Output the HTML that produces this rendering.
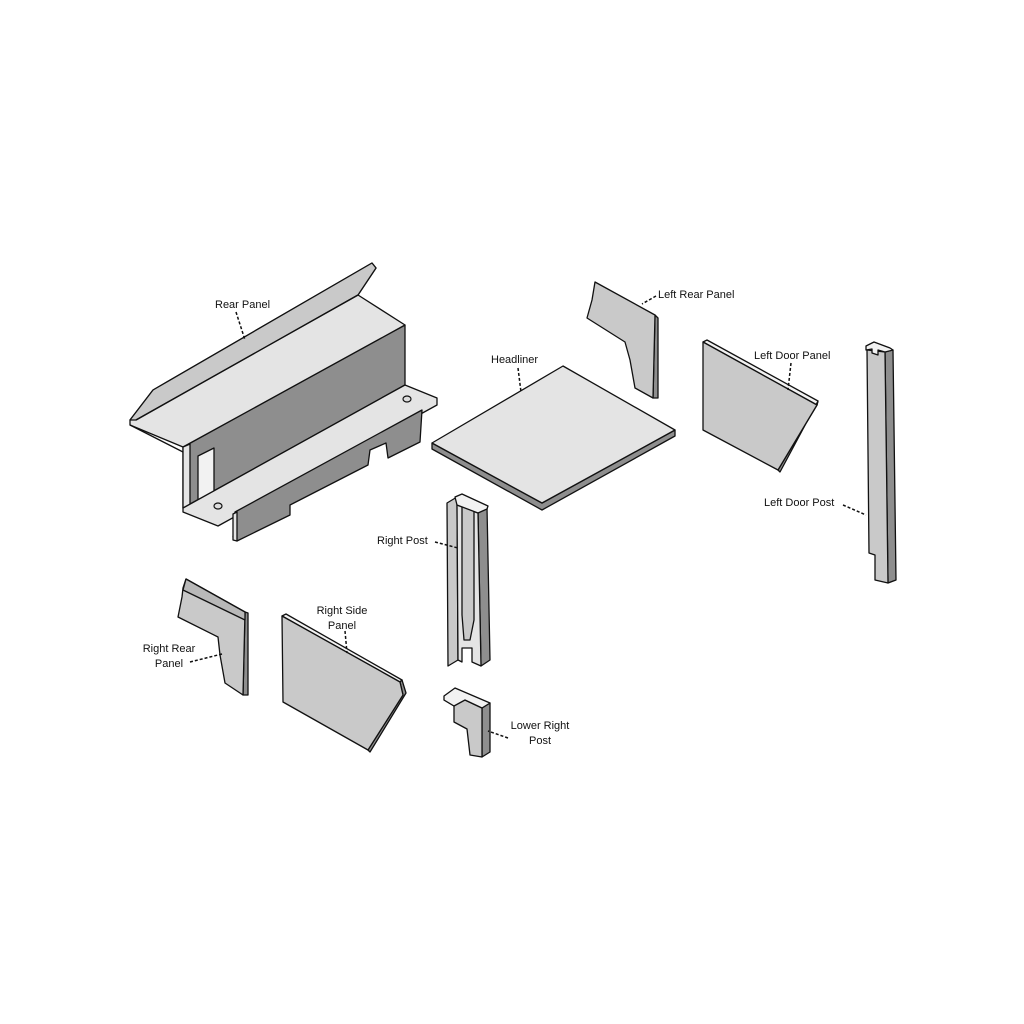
<!DOCTYPE html>
<html><head><meta charset="utf-8"><style>
html,body{margin:0;padding:0;background:#fff;}
svg{display:block}
text{font-family:"Liberation Sans",Arial,sans-serif;font-size:11px;fill:#111}
.l{fill:#e4e4e4;stroke:#111;stroke-width:1.3;stroke-linejoin:round}
.m{fill:#c9c9c9;stroke:#111;stroke-width:1.3;stroke-linejoin:round}
.d{fill:#8e8e8e;stroke:#111;stroke-width:1.3;stroke-linejoin:round}
.e{fill:#f2f2f2;stroke:#111;stroke-width:1.3;stroke-linejoin:round}
.ld{fill:none;stroke:#111;stroke-width:1.5;stroke-dasharray:3,2}
</style></head><body>
<svg width="1024" height="1024" viewBox="0 0 1024 1024" xmlns="http://www.w3.org/2000/svg">
<!-- Rear Panel -->
<polygon class="d" points="183,447 405,325 405,385 183,508"/>
<polygon class="l" points="130,420 153,390 372,263 376,268 358,295 405,325 183,447 130,425"/>
<polygon class="m" points="130,420 153,390 372,263 376,268 358,295 136,420"/>
<line x1="136" y1="420" x2="358" y2="295" stroke="#111" stroke-width="1.3"/>
<line x1="130" y1="425" x2="183" y2="452" stroke="#111" stroke-width="1.3"/>
<polygon class="l" points="183,447 190,444 190,505 183,508"/>
<polygon class="e" points="198,456 214,448 214,494 198,502"/>
<polygon class="l" points="183,508 405,385 437,398 437,405 218,526 183,512"/>
<polygon class="d" points="235,512 422,410 420,442 388,458 386,443 370,450 368,465 290,505 290,515 237,541 233,537"/>
<polygon class="l" points="233,514 237,512 237,541 233,540"/>
<ellipse cx="218" cy="506" rx="4" ry="3" fill="#ddd" stroke="#111" stroke-width="1.2"/>
<ellipse cx="407" cy="399" rx="4" ry="3" fill="#ddd" stroke="#111" stroke-width="1.2"/>
<!-- Headliner -->
<polygon class="d" points="432,443 542,503 675,430 675,436 542,510 432,449"/>
<polygon class="l" points="432,443 563,366 675,430 542,503"/>
<!-- Left Rear Panel -->
<polygon class="d" points="655,315 658,318 658,398 653,398"/>
<polygon class="m" points="595,282 655,315 653,398 635,388 630,360 625,342 587,318 592,300"/>
<!-- Left Door Panel -->
<polygon class="e" points="703,342 707,340 818,401 817,405"/>
<polygon class="d" points="817,405 818,401 780,472 778,470"/>
<polygon class="m" points="703,342 817,405 778,470 703,430"/>
<!-- Left Door Post -->
<polygon class="d" points="885,352 893,350 896,580 888,583"/>
<polygon class="m" points="867,350 885,352 888,583 875,580 875,555 869,553"/>
<polygon class="e" points="866,346 874,342 890,348 893,350 885,352 878,350 878,355 872,353 872,349 866,350"/>
<!-- Right Post -->
<polygon class="d" points="478,513 487,507 490,660 481,666"/>
<polygon class="m" points="447,503 457,497 458,660 448,666"/>
<polygon class="l" points="457,505 478,513 481,666 472,662 472,648 462,648 462,662 458,660"/>
<polygon class="m" points="462,505 474,510 474,620 470,640 464,640 462,615"/>
<polygon class="e" points="455,497 462,494 488,506 487,509 478,513 457,505"/>
<!-- Lower Right Post -->
<polygon class="d" points="482,708 490,703 490,752 482,757"/>
<polygon class="m" points="444,700 454,706 454,722 467,729 470,755 482,757 482,708 465,700 452,694"/>
<polygon class="e" points="444,696 455,688 490,703 482,708 465,700 454,706 444,700"/>
<!-- Right Rear Panel -->
<polygon class="d" points="245,612 248,613 248,695 243,695"/>
<polygon class="m" points="186,579 245,612 243,695 225,683 220,655 218,637 178,617 182,597 183,588"/>
<polygon class="l" points="186,579 245,612 245,620 183,590" style="fill:#b8b8b8"/>
<!-- Right Side Panel -->
<polygon class="e" points="282,616 286,614 402,680 400,682"/>
<polygon class="d" points="400,682 402,680 406,693 370,752 368,750 403,695"/>
<polygon class="m" points="282,616 400,682 403,695 368,750 283,702"/>
<!-- Leaders -->
<path class="ld" d="M236,312 L245,340"/>
<path class="ld" d="M518,368 L521,392"/>
<path class="ld" d="M656,296 L642,304"/>
<path class="ld" d="M791,363 L788,390"/>
<path class="ld" d="M843,505 L866,515"/>
<path class="ld" d="M435,542 L458,548"/>
<path class="ld" d="M345,631 L347,653"/>
<path class="ld" d="M190,662 L222,654"/>
<path class="ld" d="M508,738 L488,731"/>
<!-- Labels -->
<text x="215" y="308">Rear Panel</text>
<text x="491" y="363">Headliner</text>
<text x="658" y="298">Left Rear Panel</text>
<text x="754" y="359">Left Door Panel</text>
<text x="764" y="506">Left Door Post</text>
<text x="377" y="544">Right Post</text>
<text x="342" y="614" text-anchor="middle">Right Side</text>
<text x="342" y="629" text-anchor="middle">Panel</text>
<text x="169" y="652" text-anchor="middle">Right Rear</text>
<text x="169" y="667" text-anchor="middle">Panel</text>
<text x="540" y="729" text-anchor="middle">Lower Right</text>
<text x="540" y="744" text-anchor="middle">Post</text>
</svg>
</body></html>
